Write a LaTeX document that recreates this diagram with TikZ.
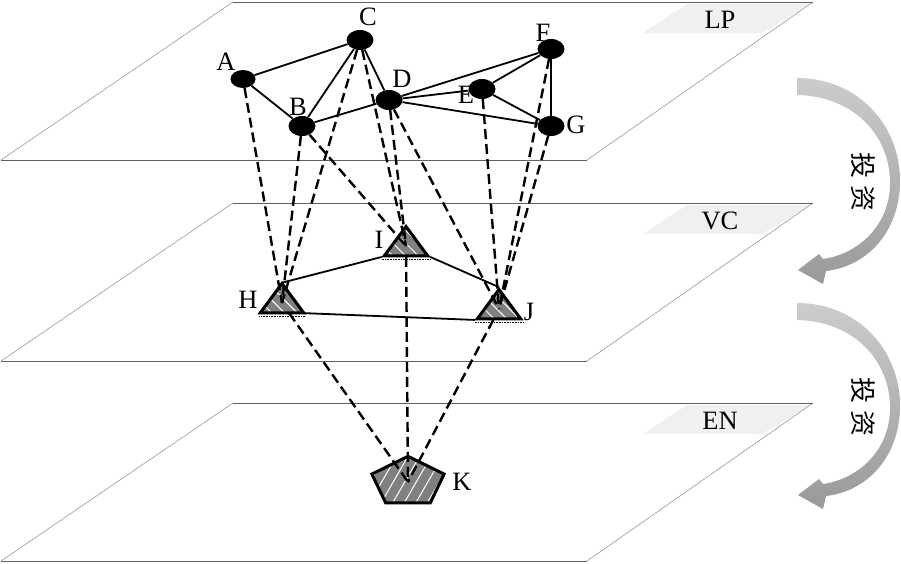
\documentclass[tikz,border=0pt]{standalone}
\usepackage{fontspec}
\setmainfont{Liberation Serif}
\newfontfamily\cjk{Noto Sans CJK SC}
\usetikzlibrary{shapes.geometric,patterns.meta}
\begin{document}
\begin{tikzpicture}[x=1pt,y=-1pt,
  plane/.style={draw=black!40, line width=0.6pt},
  planetop/.style={draw=black!62, line width=1pt},
  tag/.style={fill=black!6},
  lbl/.style={font=\fontsize{26.5}{28}\selectfont, inner sep=0pt},
  lpnode/.style={ellipse, fill=black, inner sep=0pt, minimum width=27pt, minimum height=20pt},
  vcnode/.style={regular polygon, regular polygon sides=3, inner sep=0pt, minimum size=50pt, yscale=0.78, draw=black, line width=3pt, preaction={fill=black!50}, pattern={Lines[angle=-45,distance=9pt,line width=1pt]}, pattern color=white},
  ennode/.style={regular polygon, regular polygon sides=5, inner sep=0pt, minimum size=76pt, yscale=0.676, draw=black, line width=3pt, preaction={fill=black!50}, pattern={Lines[angle=60,distance=10pt,line width=1pt]}, pattern color=white},
  link/.style={line width=1.8pt},
  proj/.style={line width=2.4pt, dash pattern=on 10pt off 5pt},
  flow/.style={top color=black!20, bottom color=black!40, draw=none},
  vert/.style={font=\cjk\fontsize{26}{28}\selectfont, rotate=-90, inner sep=0pt}
]
\useasboundingbox (0,0) rectangle (901,563);

% planes
\foreach \y/\t in {2/LP,203/VC,403/EN}{
  \fill[tag] (643,\y+31) -- (687,\y+2) -- (810,\y+2) -- (762,\y+31) -- cycle;
  \draw[plane] (233,\y) -- (1,\y+158);
  \draw[plane] (813,\y) -- (587,\y+158);
  \draw[planetop] (233,\y) -- (813,\y);
  \draw[planetop] (1,\y+158) -- (587,\y+158);
  \node[lbl] (lab\t) at (720,\y+18) {\t};
}

% arrows
\foreach \dy/\n in {0/1,225/2}{
  \begin{scope}[shift={(0,\dy)}]
    \path[flow] (797,78) .. controls (860,78) and (902,128) .. (900,185)
      .. controls (898,232) and (868,266) .. (826,271)
      -- (823,284) -- (798,270) -- (819,254) -- (823,259)
      .. controls (858,254) and (889,226) .. (890,185)
      .. controls (891,135) and (853,96) .. (797,95) -- cycle;
    \node[vert] (inv\n) at (863,182) {投\hspace{8pt}资};
  \end{scope}
}

% labels
\node[lbl] (lA) at (226,62) {A};
\node[lbl] (lB) at (298,107) {B};
\node[lbl] (lC) at (368,17) {C};
\node[lbl] (lD) at (402,79) {D};
\node[lbl] (lE) at (466,95) {E};
\node[lbl] (lF) at (543,33) {F};
\node[lbl] (lG) at (576,125) {G};
\node[lbl] (lH) at (248,300) {H};
\node[lbl] (lI) at (379,240) {I};
\node[lbl] (lJ) at (529,312) {J};
\node[lbl] (lK) at (462,482) {K};

% LP nodes
\node[lpnode, minimum width=25pt, minimum height=18pt] (A) at (243,79) {};
\node[lpnode] (B) at (302,126) {};
\node[lpnode] (C) at (360,40) {};
\node[lpnode] (D) at (389,100) {};
\node[lpnode] (E) at (482,89) {};
\node[lpnode] (F) at (551,49) {};
\node[lpnode] (G) at (551,126) {};

% VC nodes
\node[vcnode] (H) at (282,303) {};
\node[vcnode] (I) at (406,246) {};
\node[vcnode] (J) at (499,309) {};

% EN node
\node[ennode] (K) at (408,482) {};

% dotted base marks
\foreach \v in {H,I,J}{
  \draw[line width=0.6pt, densely dotted] ([yshift=-2.8pt]\v.corner 2) -- ([yshift=-2.8pt]\v.corner 3);
}

% solid links
\draw[link] (A) -- (C);
\draw[link] (A) -- (B);
\draw[link] (B) -- (C);
\draw[link] (B) -- (D);
\draw[link] (C) -- (D);
\draw[link] (D) -- (F);
\draw[link] (D) -- (E);
\draw[link] (D) -- (G);
\draw[link] (E) -- (F);
\draw[link] (E) -- (G);
\draw[link] (F) -- (G);
\draw[link] (H.corner 1) -- (I.corner 2);
\draw[link] (I.corner 3) -- (J.corner 1);
\draw[link] (H.corner 3) -- (J.corner 2);

% projections
\draw[proj] (A) -- (H.center);
\draw[proj] (B) -- (H.center);
\draw[proj] (C) -- (H.center);
\draw[proj] (B) -- (I.center);
\draw[proj] (C) -- (I.center);
\draw[proj] (D) -- (I.center);
\draw[proj] (D) -- (J.center);
\draw[proj] (E) -- (J.center);
\draw[proj] (F) -- (J.center);
\draw[proj] (G) -- (J.center);
\draw[proj] (H) -- (K.center);
\draw[proj] (I) -- (K.center);
\draw[proj] (J) -- (K.center);
\end{tikzpicture}
\end{document}
